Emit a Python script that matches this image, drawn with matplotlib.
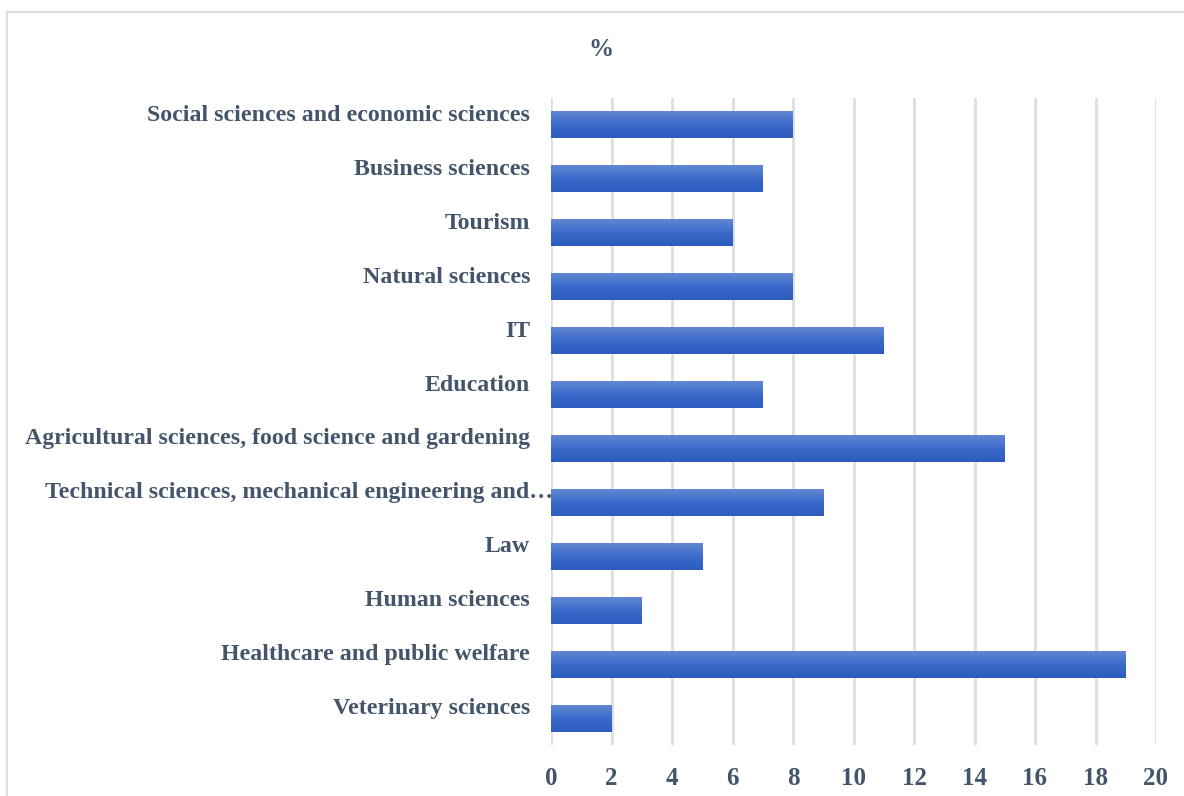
import matplotlib.pyplot as plt
import matplotlib.transforms as mtransforms
from matplotlib.patches import Rectangle
from matplotlib.colors import LinearSegmentedColormap
import numpy as np

categories = [
    "Social sciences and economic sciences",
    "Business sciences",
    "Tourism",
    "Natural sciences",
    "IT",
    "Education",
    "Agricultural sciences, food science and gardening",
    "Technical sciences, mechanical engineering and\u2026",
    "Law",
    "Human sciences",
    "Healthcare and public welfare",
    "Veterinary sciences",
]
values = [8, 7, 6, 8, 11, 7, 15, 9, 5, 3, 19, 2]
x_ticks = [0, 2, 4, 6, 8, 10, 12, 14, 16, 18, 20]

TEXT = "#44546A"
GRID = "#D9DEE6"
plt.rcParams["font.family"] = ["Liberation Serif", "DejaVu Serif"]
plt.rcParams["font.weight"] = "bold"

fig = plt.figure(figsize=(11.84, 7.96), dpi=100)
ax = fig.add_axes([551 / 1184, 1 - 745 / 796, 605 / 1184, 647 / 796])

# chart frame
fig.patches.append(Rectangle((7 / 1184, -0.01), 1.02, 1 - 12 / 796 + 0.01,
                             transform=fig.transFigure, fill=False,
                             edgecolor=GRID, linewidth=1.5))

n = len(categories)
ypos = np.arange(n)[::-1]
cmap = LinearSegmentedColormap.from_list("bar", ["#2C5DBE", "#3A6BCB", "#6287D2"])
grad = np.linspace(0, 1, 64).reshape(-1, 1)
h = 0.5
for y, v in zip(ypos, values):
    ax.imshow(grad, cmap=cmap, aspect="auto", origin="lower",
              extent=(0, v, y - h / 2, y + h / 2), zorder=3)

ax.set_xlim(0, 20)
ax.set_ylim(-0.5, n - 0.5)
ax.set_xticks(x_ticks)
ax.set_xticklabels([str(t) for t in x_ticks], fontsize=18, color=TEXT)
ax.set_yticks(ypos)
ax.set_yticklabels(categories, fontsize=17.2, color=TEXT)
ax.tick_params(axis="both", length=0)
ax.tick_params(axis="y", pad=15)
ax.tick_params(axis="x", pad=16)
ax.grid(axis="x", color=GRID, linewidth=2, zorder=0)
ax.set_axisbelow(True)
for s in ax.spines.values():
    s.set_visible(False)

# labels sit a bit above the bar centres
shift = mtransforms.ScaledTranslation(0, 12 / 100, fig.dpi_scale_trans)
for lbl in ax.get_yticklabels():
    lbl.set_transform(lbl.get_transform() + shift)
    if lbl.get_text().startswith("Technical"):
        lbl.set_transform(lbl.get_transform()
                          + mtransforms.ScaledTranslation(23 / 100, 0, fig.dpi_scale_trans))

fig.text(601 / 1184, 1 - 50 / 796, "%", ha="center", va="center",
         fontsize=18, color=TEXT)

fig.savefig("out.png", dpi=100)
